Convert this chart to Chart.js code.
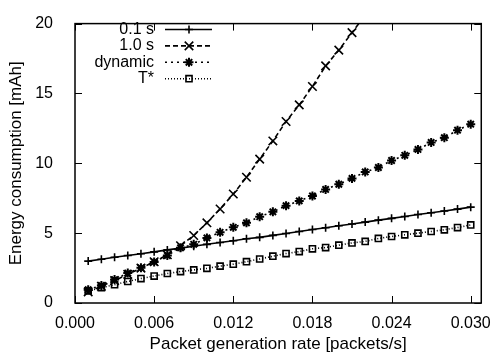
<!DOCTYPE html>
<html>
<head>
<meta charset="utf-8">
<script src="https://cdn.jsdelivr.net/npm/chart.js@4.4.1/dist/chart.umd.min.js"></script>
<style>
  body { margin: 0; background: #fff; }
  canvas { display: block; }
</style>
</head>
<body>
<canvas id="chart" width="494" height="356"></canvas>
<script>
// Packet generation rate [packets/s]
const rates = [0.001, 0.002, 0.003, 0.004, 0.005, 0.006, 0.007, 0.008, 0.009, 0.010,
               0.011, 0.012, 0.013, 0.014, 0.015, 0.016, 0.017, 0.018, 0.019, 0.020,
               0.021, 0.022, 0.023, 0.024, 0.025, 0.026, 0.027, 0.028, 0.029, 0.030];

// Energy consumption [mAh]
const energy01 = [3.00, 3.13, 3.27, 3.40, 3.53, 3.66, 3.80, 3.93, 4.06, 4.20,
                  4.33, 4.46, 4.60, 4.70, 4.84, 4.98, 5.12, 5.26, 5.39, 5.53,
                  5.66, 5.79, 5.93, 6.06, 6.19, 6.33, 6.46, 6.59, 6.72, 6.86];
const energy10 = [0.80, 1.20, 1.60, 2.05, 2.50, 2.95, 3.45, 4.10, 4.83, 5.74,
                  6.73, 7.80, 9.00, 10.30, 11.60, 12.99, 14.18, 15.50, 16.97, 18.10,
                  19.35, 20.60];
const energyDynamic = [0.95, 1.26, 1.68, 2.14, 2.52, 2.94, 3.40, 3.95, 4.20, 4.66,
                       5.06, 5.42, 5.74, 6.18, 6.53, 6.97, 7.31, 7.66, 8.13, 8.50,
                       8.92, 9.38, 9.70, 10.20, 10.57, 10.99, 11.49, 11.83, 12.37, 12.80];
const energyTStar = [0.87, 1.10, 1.31, 1.54, 1.75, 1.93, 2.11, 2.25, 2.37, 2.48,
                     2.64, 2.78, 2.96, 3.15, 3.35, 3.54, 3.68, 3.88, 3.97, 4.14,
                     4.30, 4.41, 4.62, 4.76, 4.88, 5.00, 5.12, 5.24, 5.40, 5.59];

const xTicks = [0, 0.006, 0.012, 0.018, 0.024, 0.030];
const yTicks = [0, 5, 10, 15, 20];

const FONT = '"Liberation Sans", Arial, sans-serif';

function pairs(values) {
    return values.map((v, i) => ({ x: rates[i], y: v }));
}

// inward ticks on all four sides plus the box, gnuplot style
const framePlugin = {
    id: 'frame',
    afterDatasetsDraw(chart) {
        const { ctx, chartArea: a, scales: { x, y } } = chart;
        ctx.save();
        ctx.strokeStyle = '#000';
        ctx.lineWidth = 1;
        ctx.beginPath();
        xTicks.forEach(v => {
            const px = Math.round(x.getPixelForValue(v)) + 0.5;
            ctx.moveTo(px, a.bottom); ctx.lineTo(px, a.bottom - 7);
            ctx.moveTo(px, a.top); ctx.lineTo(px, a.top + 7);
        });
        yTicks.forEach(v => {
            const py = Math.round(y.getPixelForValue(v)) + 0.5;
            ctx.moveTo(a.left, py); ctx.lineTo(a.left + 7, py);
            ctx.moveTo(a.right, py); ctx.lineTo(a.right - 7, py);
        });
        ctx.stroke();
        ctx.lineWidth = 1.5;
        ctx.strokeRect(a.left, a.top, a.right - a.left, a.bottom - a.top);
        ctx.restore();
    }
};

// key in the top-left corner: label right-aligned, then line sample with marker
const keyPlugin = {
    id: 'key',
    afterDraw(chart) {
        const ctx = chart.ctx;
        ctx.save();
        ctx.font = '16px ' + FONT;
        ctx.textAlign = 'right';
        ctx.textBaseline = 'middle';
        chart.data.datasets.forEach((ds, i) => {
            const yy = 29.5 + i * 16.4;
            ctx.fillStyle = '#000';
            ctx.fillText(ds.label, 154, yy);
            ctx.strokeStyle = '#000';
            ctx.lineWidth = ds.borderWidth;
            ctx.setLineDash(ds.borderDash);
            ctx.beginPath();
            ctx.moveTo(165, yy);
            ctx.lineTo(212, yy);
            ctx.stroke();
            ctx.setLineDash([]);
            ctx.lineWidth = ds.pointBorderWidth;
            ctx.fillStyle = 'rgba(0,0,0,0)';
            Chart.helpers.drawPoint(ctx, {
                pointStyle: ds.pointStyle,
                radius: ds.pointRadius,
                borderWidth: ds.pointBorderWidth,
                rotation: 0
            }, 189, yy);
        });
        ctx.restore();
    }
};

function series(label, values, dash, style, radius, width) {
    return {
        label: label,
        data: pairs(values),
        borderColor: '#000',
        backgroundColor: 'rgba(0,0,0,0)',
        borderWidth: 1.6,
        borderDash: dash,
        pointStyle: style,
        pointRadius: radius,
        pointBorderWidth: width,
        pointBorderColor: '#000',
        pointBackgroundColor: 'rgba(0,0,0,0)',
        fill: false,
        tension: 0
    };
}

new Chart(document.getElementById('chart'), {
    type: 'line',
    data: {
        datasets: [
            series('0.1 s', energy01, [], 'cross', 4, 1.6),
            series('1.0 s', energy10, [5, 3], 'crossRot', 6, 1.6),
            series('dynamic', energyDynamic, [2, 4], 'star', 4.5, 2),
            series('T*', energyTStar, [1, 2], 'rect', 4.3, 1.6)
        ]
    },
    options: {
        responsive: false,
        animation: false,
        devicePixelRatio: 1,
        layout: { padding: { top: 13, right: 10, left: 0, bottom: 0 } },
        plugins: {
            legend: { display: false },
            tooltip: { enabled: false }
        },
        scales: {
            x: {
                type: 'linear',
                min: 0,
                max: 0.0308,
                grid: { display: false },
                border: { display: false },
                afterBuildTicks: s => { s.ticks = xTicks.map(v => ({ value: v })); },
                afterFit: s => { s.height = 53; },
                ticks: {
                    color: '#000',
                    font: { family: FONT, size: 16 },
                    padding: 3,
                    autoSkip: false,
                    maxRotation: 0,
                    callback: v => v.toFixed(3)
                },
                title: {
                    display: true,
                    text: 'Packet generation rate [packets/s]',
                    color: '#000',
                    font: { family: FONT, size: 17 },
                    padding: { top: 0, bottom: 1 }
                }
            },
            y: {
                type: 'linear',
                min: 0,
                max: 20,
                grid: { display: false },
                border: { display: false },
                afterBuildTicks: s => { s.ticks = yTicks.map(v => ({ value: v })); },
                afterFit: s => { s.width = 75; },
                ticks: {
                    color: '#000',
                    font: { family: FONT, size: 16 },
                    padding: 14,
                    autoSkip: false
                },
                title: {
                    display: true,
                    text: 'Energy consumption [mAh]',
                    color: '#000',
                    font: { family: FONT, size: 17 },
                    padding: { top: 6, bottom: 0 }
                }
            }
        }
    },
    plugins: [framePlugin, keyPlugin]
});
</script>
</body>
</html>
